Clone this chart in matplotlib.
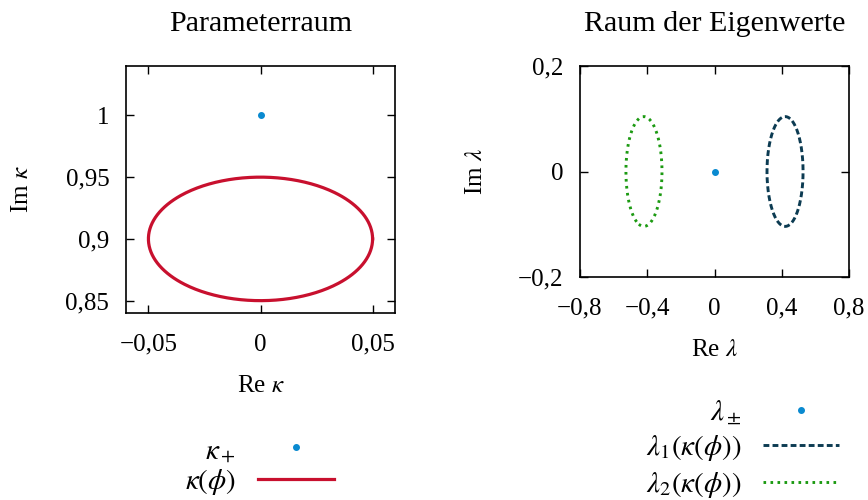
import numpy as np
import matplotlib
matplotlib.use("Agg")
import matplotlib.pyplot as plt
from matplotlib.ticker import FuncFormatter

plt.rcParams["font.family"] = ["Liberation Serif", "DejaVu Serif"]
plt.rcParams["mathtext.fontset"] = "stix"
plt.rcParams["font.size"] = 18

# --- data ---
# parameter curve: circle in the complex kappa plane
kappa_center = 0.9j
kappa_radius = 0.05
kappa_ep = 1.0j          # exceptional point kappa_+
lambda_ep = 0.0          # lambda_+- at the EP
n_points = 400

left_xticks = [-0.05, 0, 0.05]
left_yticks = [0.85, 0.9, 0.95, 1.0]
right_xticks = [-0.8, -0.4, 0, 0.4, 0.8]
right_yticks = [-0.2, 0, 0.2]

c_red = "#c8102e"
c_blue = "#0a8ad0"
c_navy = "#0c3b52"
c_green = "#1c9a12"

phi = np.linspace(0, 2 * np.pi, n_points)
kappa = kappa_center + kappa_radius * np.exp(1j * phi)
# eigenvalues of the 2x2 model, lambda = +-sqrt(1 + kappa^2)
lam1 = np.sqrt(1 + kappa ** 2)
lam2 = -lam1


def comma_fmt(v, pos):
    if abs(v) < 1e-12:
        return "0"
    s = f"{v:g}".replace(".", ",")
    return s.replace("-", "\u2212")


fig = plt.figure(figsize=(8.68, 5.0), dpi=100)
ax1 = fig.add_axes([126 / 868, 1 - 313 / 500, 269 / 868, 247 / 500])
ax2 = fig.add_axes([580 / 868, 1 - 277 / 500, 269 / 868, 211 / 500])

# --- left panel ---
ax1.plot(kappa.real, kappa.imag, color=c_red, lw=2.3, label=r"$\kappa(\phi)$")
ax1.plot([kappa_ep.real], [kappa_ep.imag], "o", color=c_blue, ms=4,
         linestyle="none", label=r"$\kappa_+$")
ax1.set_xlim(-0.06, 0.06)
ax1.set_ylim(0.84, 1.04)
ax1.set_xticks(left_xticks)
ax1.set_yticks(left_yticks)
ax1.set_title("Parameterraum", pad=25)
ax1.set_xlabel(r"Re $\kappa$", va="center")
ax1.set_ylabel(r"Im $\kappa$", va="center")
ax1.xaxis.set_label_coords(0.5, -(386 - 313) / 247)
ax1.yaxis.set_label_coords(-(126 - 22) / 269, 0.5)

# --- right panel ---
ax2.plot(lam1.real, lam1.imag, color=c_navy, lw=2.1, dashes=(2.0, 1.1),
         label=r"$\lambda_1\left(\kappa(\phi)\right)$")
ax2.plot(lam2.real, lam2.imag, color=c_green, lw=2.1, dashes=(0.9, 1.5),
         label=r"$\lambda_2\left(\kappa(\phi)\right)$")
ax2.plot([lambda_ep], [0], "o", color=c_blue, ms=4, linestyle="none",
         label=r"$\lambda_\pm$")
ax2.set_xlim(-0.8, 0.8)
ax2.set_ylim(-0.2, 0.2)
ax2.set_xticks(right_xticks)
ax2.set_yticks(right_yticks)
ax2.set_title("Raum der Eigenwerte", pad=25)
ax2.set_xlabel(r"Re $\lambda$", va="center")
ax2.set_ylabel(r"Im $\lambda$", va="center")
ax2.xaxis.set_label_coords(0.5, -(350 - 277) / 211)
ax2.yaxis.set_label_coords(-(580 - 476) / 269, 0.5)

for ax in (ax1, ax2):
    ax.xaxis.set_major_formatter(FuncFormatter(comma_fmt))
    ax.yaxis.set_major_formatter(FuncFormatter(comma_fmt))
    ax.tick_params(direction="in", top=True, right=True, length=6, width=1,
                   pad=15)
    ax.tick_params(axis="y", pad=12)
    for sp in ax.spines.values():
        sp.set_linewidth(1.2)

# --- legends below the panels, label left and handle right ---
leg_kw = dict(loc="upper right", frameon=False, markerfirst=False,
              fontsize=21, handlelength=2.6, handletextpad=0.75,
              borderpad=0, borderaxespad=0)

h, l = ax1.get_legend_handles_labels()
fig.legend([h[1], h[0]], [l[1], l[0]], labelspacing=0.13,
           bbox_to_anchor=(334 / 868, 1 - 437 / 500), **leg_kw)

h, l = ax2.get_legend_handles_labels()
fig.legend([h[2], h[0], h[1]], [l[2], l[0], l[1]], labelspacing=0.22,
           bbox_to_anchor=(839 / 868, 1 - 398 / 500), **leg_kw)

fig.savefig("out.png", dpi=100)
